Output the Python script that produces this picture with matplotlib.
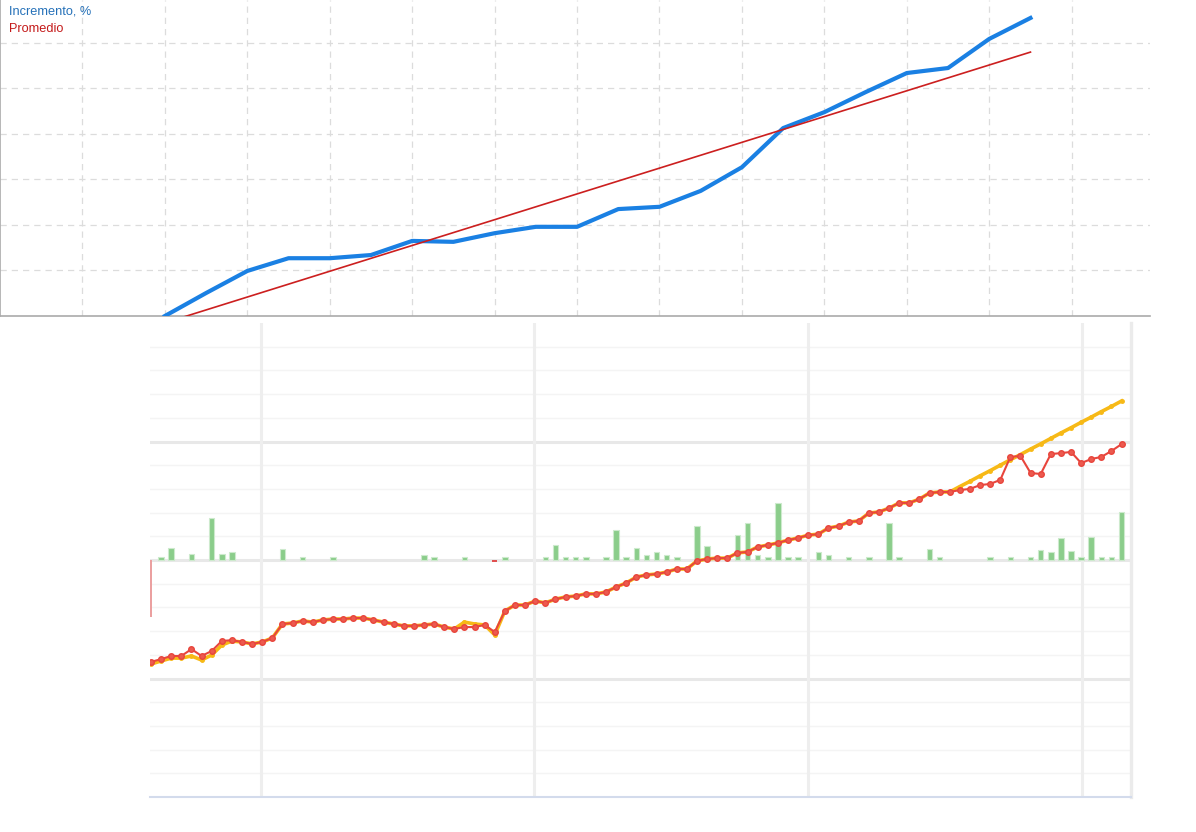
#!/usr/bin/env python
'''
Grafico compuesto: incremento mensual (arriba) y balance semanal (abajo)
'''

import matplotlib
matplotlib.use('Agg')
import matplotlib.pyplot as plt

# ---------------------------------------------------------------
# Datos del grafico superior (incremento acumulado, %)
# ---------------------------------------------------------------
meses = list(range(22))
incremento = [0.0, 5.05, 9.9, 12.7, 12.7, 13.4, 16.5, 16.3, 18.2, 19.6, 19.6,
              23.5, 24.0, 27.5, 32.7, 41.3, 44.8, 49.2, 53.4, 54.5, 60.9, 65.5]
promedio_meses = [0, 21]
promedio = [-1.5, 58.0]

# ---------------------------------------------------------------
# Datos del grafico inferior (balance, equidad y resultado semanal)
# ---------------------------------------------------------------
semanas = list(range(97))
balance = [-43.0, -41.8, -40.5, -40.5, -37.6, -40.5, -38.4, -34.2, -33.8, -34.6,
           -35.4, -34.6, -32.9, -27.0, -26.6, -25.7, -26.2, -25.3, -24.9, -24.9,
           -24.5, -24.5, -25.3, -26.2, -27.0, -27.8, -27.8, -27.4, -27.0, -28.3,
           -29.1, -28.3, -28.3, -27.4,
           -30.4, -21.5, -19.0, -19.0, -17.3, -18.1, -16.5, -15.6, -15.2, -14.3,
           -14.3, -13.5, -11.4, -9.7, -7.2, -6.3, -5.9, -5.1, -3.8, -3.8,
           -0.4, 0.4, 0.8, 0.8, 3.0, 3.4, 5.5, 6.3, 7.2, 8.4, 9.3, 10.5,
           10.9, 13.5, 14.3, 16.0, 16.5, 19.8, 20.3, 21.9, 24.1, 24.1,
           25.7, 28.3, 28.7, 28.7, 29.5, 30.0, 31.6, 32.1, 33.8, 43.5,
           43.9, 36.7, 36.3, 44.7, 45.1, 45.6, 40.9, 42.6, 43.5, 46.0, 48.9]
equidad = [-43.9, -42.6, -41.4, -41.4, -40.5, -42.2, -40.1, -35.9, -34.2,
           -34.6, -35.4, -34.6, -32.9, -27.0, -26.6, -25.7, -26.2, -25.3, -24.9,
           -24.9, -24.5, -24.5, -25.3, -26.2, -27.0, -27.8, -27.8, -27.4, -27.0,
           -28.3, -29.1,
           -26.2, -27.0, -27.4, -31.6,
           -21.5, -19.0, -19.0, -17.3, -18.1, -16.5, -15.6, -15.2, -14.3, -14.3,
           -13.5, -11.4, -9.7, -7.2, -6.3, -5.9, -5.1, -3.8, -3.8, -0.4, 0.4,
           0.8, 0.8, 3.0, 3.4, 5.5, 6.3, 7.2, 8.4, 9.3, 10.5, 10.9, 13.5, 14.3,
           16.0, 16.5, 19.8, 20.3, 21.9, 24.1, 24.1, 25.7, 28.3, 28.7,
           28.7, 31.0, 33.2, 35.5, 37.7, 40.0, 42.3, 44.5, 46.8, 49.0, 51.3,
           53.6, 55.8, 58.1, 60.3, 62.6, 64.8, 67.1]

ganancias_sem = [1, 2, 4, 6, 7, 8, 13, 15, 18, 27, 28, 31, 35, 39, 40, 41, 42,
                 43, 45, 46, 47, 48, 49, 50, 51, 52, 54, 55, 58, 59, 60, 61,
                 62, 63, 64, 66, 67, 69, 71, 73, 74, 77, 78, 83, 85, 87, 88,
                 89, 90, 91, 92, 93, 94, 95, 96]
ganancias = [1.3, 5.1, 2.5, 17.7, 2.5, 3.4, 4.6, 1.3, 1.3, 2.1, 1.3, 1.3, 1.3,
             1.3, 6.3, 1.3, 1.3, 1.3, 1.3, 12.7, 1.3, 5.1, 2.1, 3.4, 2.1, 1.3,
             14.3, 5.9, 10.5, 15.6, 2.1, 1.3, 24.1, 1.3, 1.3, 3.4, 2.1, 1.3,
             1.3, 15.6, 1.3, 4.6, 1.3, 1.3, 1.3, 1.3, 4.2, 3.4, 9.3, 3.8, 1.3,
             9.7, 1.3, 1.3, 20.3]
perdidas_sem = [0, 34]
perdidas = [-24.1, -1.0]

# divisiones de mes en el eje semanal
cortes_mes = [10.9, 37.9, 65.0, 92.1]

W, H = 1196, 832


def grafico_superior(fig):
    ax = fig.add_axes([0 / W, 1 - 316 / H, 1150 / W, 316 / H])
    ax.set_xlim(-4.0, 23.9)
    ax.set_ylim(0, 69.45)
    ax.set_xticks(range(-2, 23, 2))
    ax.set_yticks(range(10, 70, 10))
    ax.tick_params(length=0, labelbottom=False, labelleft=False)
    ax.grid(True, ls=(0, (5, 4)), color='#dcdcdc', lw=0.9)
    for s in ['top', 'right']:
        ax.spines[s].set_visible(False)
    for s in ['left', 'bottom']:
        ax.spines[s].set_color('#aaaaaa')
        ax.spines[s].set_linewidth(1.2)

    ax.plot(meses, incremento, color='#1a80e3', lw=3.0,
            solid_joinstyle='round', zorder=3)
    ax.plot(promedio_meses, promedio, color='#cc1f1f', lw=1.2, zorder=4)

    fig.text(9 / W, 1 - 11 / H, 'Incremento, %', color='#2470b8',
             fontsize=9.2, family='Liberation Sans', va='center')
    fig.text(9 / W, 1 - 29 / H, 'Promedio', color='#c41a1a',
             fontsize=9.2, family='Liberation Sans', va='center')


def grafico_inferior(fig):
    ax = fig.add_axes([150 / W, 1 - 797 / H, (1131 - 150) / W, (797 - 323) / H])
    ax.set_xlim(-0.1, 96.93)
    ax.set_ylim(-100, 100)
    ax.set_xticks([])
    ax.set_yticks([])

    # grilla
    for v in range(-90, 100, 10):
        if v in (-50, 0, 50):
            ax.axhline(v, color='#e8e8e8', lw=2.2, zorder=0)
        else:
            ax.axhline(v, color='#f4f4f4', lw=1.0, zorder=0)
    for c in cortes_mes:
        ax.axvline(c, color='#eeeeee', lw=2.2, zorder=0)

    for s in ['top', 'left']:
        ax.spines[s].set_visible(False)
    ax.spines['right'].set_color('#ebebeb')
    ax.spines['right'].set_linewidth(2.4)
    ax.spines['bottom'].set_color('#d3dbec')
    ax.spines['bottom'].set_linewidth(1.5)

    # barras semanales
    ax.bar(ganancias_sem, ganancias, width=0.55, color='#8bcd8b',
           edgecolor='#cdeacd', lw=0.8, zorder=2)
    ax.bar(perdidas_sem, perdidas, width=[0.15, 0.5],
           color=['#eba0a0', '#e05050'], edgecolor='none', zorder=2)

    # equidad y balance
    ax.plot(semanas, equidad, color='#f7b916', lw=2.6, marker='o', ms=2.5,
            zorder=3)
    ax.plot(semanas, balance, color='#e8453c', lw=1.5, marker='o', ms=4.0,
            mfc='#ec5a4f', mec='#e8453c', zorder=4)


if __name__ == '__main__':
    fig = plt.figure(figsize=(W / 100, H / 100), dpi=100)
    grafico_superior(fig)
    grafico_inferior(fig)
    fig.savefig('out.png', dpi=100)
